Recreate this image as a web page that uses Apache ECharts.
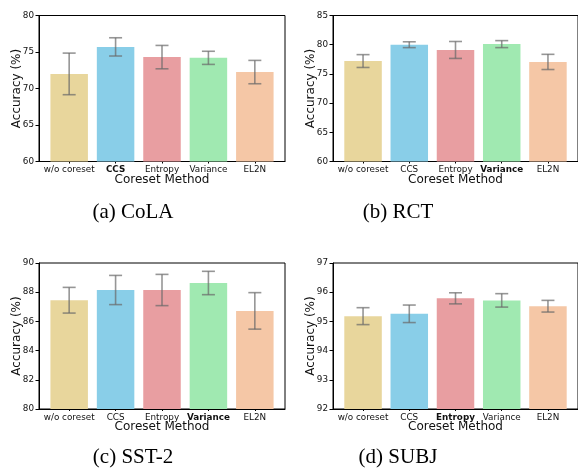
<!DOCTYPE html>
<html>
<head>
<meta charset="utf-8">
<script src="https://cdn.jsdelivr.net/npm/echarts@6/dist/echarts.min.js"></script>
<style>
  html, body { margin: 0; padding: 0; background: #fff; }
  #chart { width: 578px; height: 470px; }
</style>
</head>
<body>
<div id="chart"></div>
<script>
// Data.
const categories = ['w/o coreset', 'CCS', 'Entropy', 'Variance', 'EL2N'];
const barColors = ['#E8D69C', '#89CEE8', '#E89EA1', '#A0E9B1', '#F5C7A6'];

const colaMean = [72.0, 75.7, 74.3, 74.2, 72.25];
const colaErr = [2.85, 1.25, 1.6, 0.9, 1.6];
const rctMean = [77.2, 80.0, 79.1, 80.1, 77.05];
const rctErr = [1.1, 0.5, 1.45, 0.6, 1.3];
const sstMean = [87.45, 88.15, 88.15, 88.63, 86.72];
const sstErr = [0.88, 1.0, 1.07, 0.8, 1.25];
const subjMean = [95.18, 95.26, 95.79, 95.72, 95.52];
const subjErr = [0.29, 0.3, 0.19, 0.23, 0.2];

const panels = [
  { caption: '(a) CoLA', mean: colaMean, err: colaErr, min: 60, max: 80, step: 5, bold: 1,
    grid: { left: 39, top: 15.5, width: 246, height: 146 }, cap: [133, 212] },
  { caption: '(b) RCT', mean: rctMean, err: rctErr, min: 60, max: 85, step: 5, bold: 3,
    grid: { left: 333, top: 15.5, width: 245, height: 146 }, cap: [398, 212] },
  { caption: '(c) SST-2', mean: sstMean, err: sstErr, min: 80, max: 90, step: 2, bold: 3,
    grid: { left: 39, top: 263, width: 246, height: 146 }, cap: [133, 457] },
  { caption: '(d) SUBJ', mean: subjMean, err: subjErr, min: 92, max: 97, step: 1, bold: 2,
    grid: { left: 333, top: 263, width: 245, height: 146 }, cap: [398, 457] }
];

const font = 'DejaVu Sans';
const grids = [], xAxes = [], yAxes = [], series = [], graphics = [];

panels.forEach((p, i) => {
  grids.push(Object.assign({ show: true, borderColor: '#000', borderWidth: 1, backgroundColor: 'transparent' }, p.grid));

  xAxes.push({
    type: 'value', gridIndex: i, min: -0.65, max: 4.65,
    splitLine: { show: false },
    axisLine: { show: true, onZero: false, lineStyle: { color: '#000', width: 1 } },
    axisTick: { show: true, length: 2, customValues: [0, 1, 2, 3, 4], lineStyle: { color: '#000' } },
    axisLabel: {
      customValues: [0, 1, 2, 3, 4], margin: 4, fontFamily: font, fontSize: 8.8, color: '#111',
      formatter: v => {
        const name = categories[Math.round(v)];
        return Math.round(v) === p.bold ? '{b|' + name + '}' : name;
      },
      rich: { b: { fontFamily: font, fontSize: 8.8, fontWeight: 'bold', color: '#111' } }
    },
    name: 'Coreset Method', nameLocation: 'middle', nameGap: 12, nameMoveOverlap: false,
    nameTextStyle: { fontFamily: font, fontSize: 12, color: '#111' }
  });

  yAxes.push({
    type: 'value', gridIndex: i, min: p.min, max: p.max, interval: p.step,
    splitLine: { show: false },
    axisLine: { show: true, onZero: false, lineStyle: { color: '#000', width: 1 } },
    axisTick: { show: true, length: 3.5, lineStyle: { color: '#000' } },
    axisLabel: { margin: 5, fontFamily: font, fontSize: 8.8, color: '#111' },
    name: 'Accuracy (%)', nameLocation: 'middle', nameGap: 16, nameMoveOverlap: false,
    nameTextStyle: { fontFamily: font, fontSize: 12, color: '#111' }
  });

  series.push({
    type: 'bar', xAxisIndex: i, yAxisIndex: i, barWidth: 37.5, clip: true,
    data: p.mean.map((v, k) => ({ value: [k, v], itemStyle: { color: barColors[k] } }))
  });

  series.push({
    type: 'custom', xAxisIndex: i, yAxisIndex: i, z: 5,
    data: p.mean.map((v, k) => [k, v - p.err[k], v + p.err[k]]),
    renderItem: (params, api) => {
      const top = api.coord([api.value(0), api.value(2)]);
      const bot = api.coord([api.value(0), api.value(1)]);
      const half = 6.5;
      const style = { stroke: 'rgba(105,105,105,0.7)', lineWidth: 1.6 };
      return {
        type: 'group',
        children: [
          { type: 'line', shape: { x1: top[0], y1: top[1], x2: bot[0], y2: bot[1] }, style },
          { type: 'line', shape: { x1: top[0] - half, y1: top[1], x2: top[0] + half, y2: top[1] }, style },
          { type: 'line', shape: { x1: bot[0] - half, y1: bot[1], x2: bot[0] + half, y2: bot[1] }, style }
        ]
      };
    }
  });

  graphics.push({
    type: 'text', x: p.cap[0], y: p.cap[1],
    style: { text: p.caption, align: 'center', verticalAlign: 'middle',
      font: '21px "Liberation Serif"', fill: '#000' }
  });
});

const chart = echarts.init(document.getElementById('chart'), null, { renderer: 'canvas' });
chart.setOption({
  animation: false,
  backgroundColor: '#fff',
  grid: grids,
  xAxis: xAxes,
  yAxis: yAxes,
  series: series,
  graphic: graphics
});
</script>
</body>
</html>
